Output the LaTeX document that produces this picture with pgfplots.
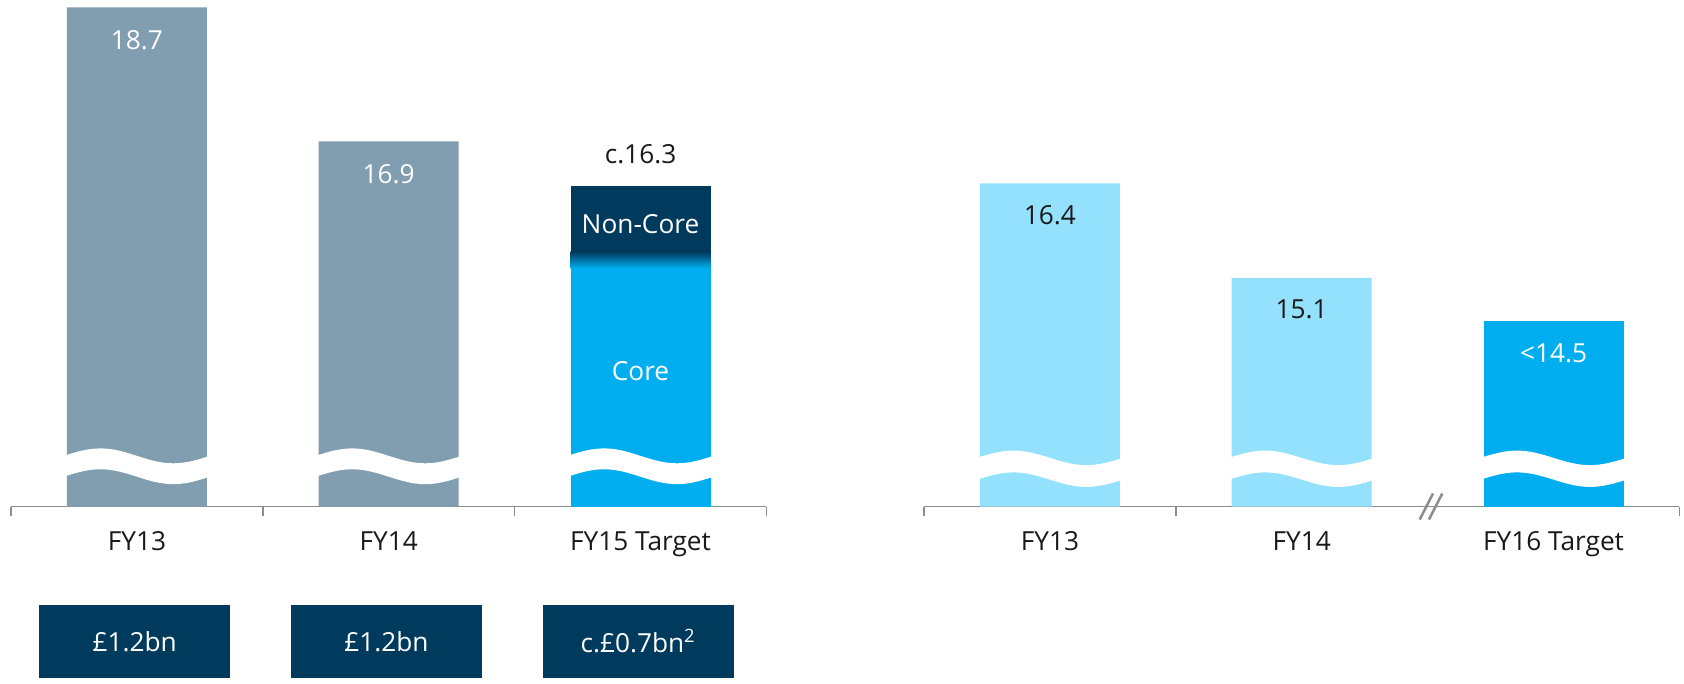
\documentclass[border=0pt]{standalone}
\usepackage{fontspec}
\setmainfont{Open Sans}
\usepackage{pgfplots}
\pgfplotsset{compat=1.18}

\definecolor{barGray}{RGB}{129,157,176}
\definecolor{navy}{RGB}{0,58,92}
\definecolor{cyanDark}{RGB}{0,174,239}
\definecolor{cyanLight}{RGB}{148,225,254}
\definecolor{axisGray}{RGB}{140,140,140}

% white wavy band that marks the broken bars
\newcommand\wave[3]{%
  \fill[white] (axis cs:#1-0.29,#2) sin (axis cs:#1-0.145,#2+0.1) cos (axis cs:#1,#2)
    sin (axis cs:#1+0.145,#2-0.1) cos (axis cs:#1+0.29,#2)
    -- (axis cs:#1+0.29,#3) sin (axis cs:#1+0.145,#3-0.1) cos (axis cs:#1,#3)
    sin (axis cs:#1-0.145,#3+0.1) cos (axis cs:#1-0.29,#3) -- cycle;}

\newcommand\txt{\fontsize{10.5}{12.5}\selectfont}

\pgfplotsset{
  brokenbars/.style={
    x=100.72pt,
    xmin=-0.5, xmax=2.5,
    axis y line=none, axis x line*=bottom,
    axis line style={axisGray, line width=0.6pt, -},
    xtick={0,1,2}, xtick pos=bottom,
    major tick length=0pt, minor tick length=3.8pt,
    tick align=outside, minor tick style={axisGray, line width=0.6pt},
    xticklabel style={font=\txt, text=black!90, anchor=base, yshift=-17.7pt},
    ybar, bar width=0.556, bar shift=0pt,
    clip mode=individual,
    every axis plot/.append style={draw=none},
    every node near coord/.append style={font=\txt, anchor=center},
  },
}
\tikzset{
  boxlabel/.style={fill=navy, text=white, minimum width=76.4pt, minimum height=29.2pt,
    inner sep=0pt, font=\txt, yshift=-53.9pt, xshift=-0.9pt},
}

\begin{document}
\begin{tikzpicture}
\useasboundingbox (-4.4pt,-70.6pt) rectangle (669.2pt,202.6pt);

% ---------- left chart ----------
\begin{axis}[brokenbars, at={(0pt,0pt)}, anchor=south west,
  y=29.8pt, ymin=12, ymax=18.8,
  xticklabels={FY13,FY14,FY15 Target},
  minor xtick={-0.5,0.5,1.5,2.5},
  after end axis/.append code={
    \shade[top color=navy, bottom color=cyanDark]
      (axis cs:1.722,15.2) rectangle (axis cs:2.278,15.42);
    \node[text=white, font=\txt] at (axis cs:2,15.79) {Non-Core};
  }]
  \addplot[fill=barGray, nodes near coords, point meta=explicit symbolic,
    every node near coord/.append style={text=white, yshift=-13pt}]
    coordinates {(0,18.7) [18.7] (1,16.9) [16.9]};
  \addplot[fill=navy, nodes near coords, point meta=explicit symbolic,
    every node near coord/.append style={text=black!90, yshift=12.7pt}]
    coordinates {(2,16.3) [c.16.3]};
  \addplot[fill=cyanDark] coordinates {(2,15.2)};
  \node[text=white, font=\txt] at (axis cs:2,13.82) {Core};
  \wave{0}{12.68}{12.40}
  \wave{1}{12.68}{12.40}
  \wave{2}{12.68}{12.40}
  \node[boxlabel] at (axis cs:0,12) {£1.2bn};
  \node[boxlabel] at (axis cs:1,12) {£1.2bn};
  \node[boxlabel] at (axis cs:2,12) {c.£0.7bn\textsuperscript{2}};
\end{axis}

% ---------- right chart ----------
\begin{axis}[brokenbars, at={(365.2pt,0pt)}, anchor=south west,
  y=29.04pt, ymin=11.95, ymax=18.93,
  xticklabels={FY13,FY14,FY16 Target},
  minor xtick={-0.5,0.5,2.5}]
  \addplot[fill=cyanLight, nodes near coords, point meta=explicit symbolic,
    every node near coord/.append style={text=black!90, yshift=-12.8pt}]
    coordinates {(0,16.4) [16.4] (1,15.1) [15.1]};
  \addplot[fill=cyanDark, nodes near coords, point meta=explicit symbolic,
    every node near coord/.append style={text=white, yshift=-12.8pt}]
    coordinates {(2,14.5) [<14.5]};
  \wave{0}{12.62}{12.32}
  \wave{1}{12.62}{12.32}
  \wave{2}{12.62}{12.32}
  % axis break marks
  \draw[axisGray, line width=1pt] ([xshift=-0.5pt]axis cs:1.5,11.95) +(-2.66pt,-5.2pt) -- +(2.66pt,5.2pt);
  \draw[axisGray, line width=1pt] ([xshift=3.2pt]axis cs:1.5,11.95) +(-2.66pt,-5.2pt) -- +(2.66pt,5.2pt);
\end{axis}
\end{tikzpicture}
\end{document}
